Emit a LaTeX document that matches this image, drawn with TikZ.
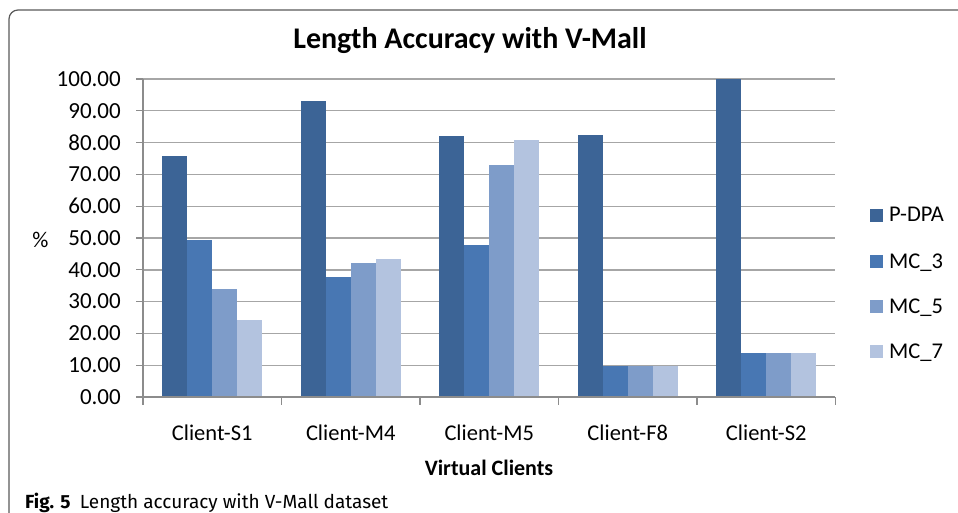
\documentclass[tikz,border=0pt]{standalone}
\usepackage{fontspec}
\setmainfont{Carlito}
\newfontfamily\capfont{Fira Sans}
\definecolor{cpdpa}{RGB}{60,100,150}
\definecolor{cmcthree}{RGB}{72,119,179}
\definecolor{cmcfive}{RGB}{126,156,201}
\definecolor{cmcseven}{RGB}{179,195,223}
\definecolor{gridc}{RGB}{166,166,166}
\definecolor{axisc}{RGB}{140,140,140}
\definecolor{framec}{RGB}{90,90,90}
\tikzset{
  grid line/.style={draw=gridc, line width=1.4pt},
  axis line/.style={draw=axisc, line width=1.2pt},
  tick label/.style={font=\fontsize{23}{25}\selectfont, inner sep=0pt, anchor=east},
  cat label/.style={font=\fontsize{22.5}{24}\selectfont, inner sep=0pt, anchor=base},
  legend label/.style={font=\fontsize{22.5}{24}\selectfont, inner sep=0pt, anchor=base west},
}
\begin{document}
\begin{tikzpicture}[x=1pt,y=-1pt]
\useasboundingbox (0,0) rectangle (958,513);
\fill[white] (0,0) rectangle (958,513);
% frame
\draw[framec, line width=1.2pt, rounded corners=9pt] (9,513) -- (9,10) -- (958,10);
% title
\node[font=\fontsize{30}{32}\selectfont\bfseries, inner sep=0pt, anchor=base] (title) at (470,49) {Length Accuracy with V-Mall};
% gridlines and tick labels
\foreach \v/\lab in {0/0.00,10/10.00,20/20.00,30/30.00,40/40.00,50/50.00,60/60.00,70/70.00,80/80.00,90/90.00,100/100.00}{
  \pgfmathsetmacro{\yy}{397-3.18*\v}
  \ifnum\v>0
    \draw[grid line] (143,\yy) -- (835,\yy);
  \fi
  \draw[axis line] (136,\yy) -- (143,\yy);
  \node[tick label] (yl\v) at (121,\yy) {\lab};
}
% bars
\foreach \ci/\a/\b/\c/\d in {0/75.7/49.3/34.0/24.2, 1/93.0/37.6/42.2/43.3, 2/82.0/47.8/73.0/80.8, 3/82.4/9.75/9.75/9.75, 4/100/13.7/13.7/13.7}{
  \pgfmathsetmacro{\xa}{143+138.5*\ci+19.25}
  \fill[cpdpa] (\xa,397) rectangle ({\xa+25},{397-3.18*\a});
  \fill[cmcthree] ({\xa+25},397) rectangle ({\xa+50},{397-3.18*\b});
  \fill[cmcfive] ({\xa+50},397) rectangle ({\xa+75},{397-3.18*\c});
  \fill[cmcseven] ({\xa+75},397) rectangle ({\xa+100},{397-3.18*\d});
}
% axes
\draw[axis line] (143,79) -- (143,397);
\draw[axis line] (143,397) -- (835,397);
\foreach \ci in {0,...,5}{
  \draw[axis line] ({143+138.5*\ci},397) -- ({143+138.5*\ci},405);
}
% category labels
\foreach \ci/\lab in {0/Client-S1,1/Client-M4,2/Client-M5,3/Client-F8,4/Client-S2}{
  \node[cat label] (cl\ci) at ({143+138.5*(\ci+0.5)},440) {\lab};
}
\node[font=\fontsize{22}{24}\selectfont\bfseries, inner sep=0pt, anchor=base] (xtitle) at (489,475) {Virtual Clients};
\node[font=\fontsize{22.5}{24}\selectfont, inner sep=0pt] (ytitle) at (40.5,240) {\%};
% legend
\foreach \k/\col/\lab/\yb in {1/cpdpa/P-DPA/222, 2/cmcthree/MC\_3/268, 3/cmcfive/MC\_5/313, 4/cmcseven/MC\_7/358}{
  \fill[\col] (870,\yb) rectangle (883,{\yb-13});
  \node[legend label] (lg\k) at (889,\yb) {\lab};
}
% caption
\node[font=\capfont\fontsize{19}{21}\selectfont, inner sep=0pt, anchor=base west] (caption) at (25,508) {\textbf{Fig. 5}\hspace{0.5em}Length accuracy with V-Mall dataset};
\end{tikzpicture}
\end{document}
